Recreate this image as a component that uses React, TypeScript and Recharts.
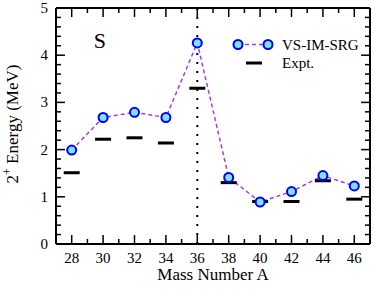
import {
  ComposedChart,
  Line,
  Scatter,
  XAxis,
  YAxis,
  ReferenceLine,
  ReferenceDot,
  Legend,
} from "recharts"

const massNumbers = [28, 30, 32, 34, 36, 38, 40, 42, 44, 46]
const vsImSrg = [1.99, 2.68, 2.79, 2.68, 4.26, 1.41, 0.89, 1.11, 1.45, 1.23]
const expt = [1.51, 2.22, 2.25, 2.14, 3.3, 1.3, 0.9, 0.9, 1.34, 0.95]

const xTicks = [28, 29, 30, 31, 32, 33, 34, 35, 36, 37, 38, 39, 40, 41, 42, 43, 44, 45, 46]
const yTicks = [
  0, 0.2, 0.4, 0.6, 0.8, 1, 1.2, 1.4, 1.6, 1.8, 2, 2.2, 2.4, 2.6, 2.8, 3, 3.2, 3.4,
  3.6, 3.8, 4, 4.2, 4.4, 4.6, 4.8, 5,
]

const X_MIN = 27
const X_MAX = 47
const Y_MIN = 0
const Y_MAX = 5

const data = massNumbers.map((m, i) => ({ mass: m, th: vsImSrg[i], ex: expt[i] }))

const FONT = "'Liberation Serif', 'Times New Roman', serif"
const PURPLE = "#a33cf0"
const BLUE = "#0000ff"
const CYAN = "#7fe3ff"

const isMajorX = (v: number) => v % 2 === 0
const isMajorY = (v: number) => Math.abs(v - Math.round(v)) < 1e-6

// inward tick lengths, in data units (~9px major / ~5px minor)
const xTickLen = (v: number) => (isMajorX(v) ? 0.19 : 0.106)
const yTickLen = (v: number) => (isMajorY(v) ? 0.57 : 0.32)

const BottomTick = (p: any) => {
  const v = p.payload.value
  if (!isMajorX(v)) return <g />
  return (
    <text x={p.x} y={p.y + 19} textAnchor="middle" fontSize={15} fontFamily={FONT} fill="#000">
      {v}
    </text>
  )
}

const LeftTick = (p: any) => {
  const v = p.payload.value
  if (!isMajorY(v)) return <g />
  return (
    <text x={p.x - 8} y={p.y + 5} textAnchor="end" fontSize={15} fontFamily={FONT} fill="#000">
      {Math.round(v)}
    </text>
  )
}

const TheoryDot = (p: any) => (
  <circle key={p.index} cx={p.cx} cy={p.cy} r={4.5} fill={CYAN} stroke={BLUE} strokeWidth={2} />
)

const ExptBar = (p: any) => <rect x={p.cx - 8} y={p.cy - 1.5} width={16} height={3} fill="#000" />

const LegendBox = () => (
  <svg width={140} height={40} style={{ display: "block" }}>
    <line x1={10} x2={40} y1={9.5} y2={9.5} stroke={PURPLE} strokeWidth={1.5} strokeDasharray="4 3" />
    <circle cx={10} cy={9.5} r={4.5} fill={CYAN} stroke={BLUE} strokeWidth={2} />
    <circle cx={40} cy={9.5} r={4.5} fill={CYAN} stroke={BLUE} strokeWidth={2} />
    <text x={54} y={14.5} fontSize={15} fontFamily={FONT} fill="#000">
      VS-IM-SRG
    </text>
    <rect x={18} y={26.5} width={16} height={3} fill="#000" />
    <text x={54} y={33} fontSize={15} fontFamily={FONT} fill="#000">
      Expt.
    </text>
  </svg>
)

const XLabel = (p: any) => {
  const vb = p.viewBox
  return (
    <text x={vb.x + vb.width / 2} y={280} textAnchor="middle" fontSize={17} fontFamily={FONT} fill="#000">
      Mass Number A
    </text>
  )
}

const YLabel = () => (
  <text
    x={0}
    y={0}
    transform="translate(18,124) rotate(-90)"
    textAnchor="middle"
    fontSize={17}
    fontFamily={FONT}
    fill="#000"
  >
    <tspan>2</tspan>
    <tspan dy={-7} fontSize={12}>+</tspan>
    <tspan dy={7}> Energy (MeV)</tspan>
  </text>
)

const frame = { stroke: "#000", strokeWidth: 2 }
const TICK = "#000"

export default function App() {
  return (
    <div style={{ position: "absolute", left: 0, top: 0, width: 374, height: 292, background: "#fff" }}>
      <ComposedChart width={374} height={292} data={data} margin={{ top: 8, right: 4, bottom: 0, left: 0 }}>
        <XAxis
          dataKey="mass"
          type="number"
          domain={[X_MIN, X_MAX]}
          allowDataOverflow
          ticks={xTicks}
          interval={0}
          tickSize={0}
          tickMargin={0}
          tickLine={false}
          tick={BottomTick}
          height={48}
          axisLine={frame}
          label={XLabel}
        />
        <XAxis
          xAxisId="top"
          orientation="top"
          mirror
          dataKey="mass"
          type="number"
          domain={[X_MIN, X_MAX]}
          allowDataOverflow
          tick={false}
          tickLine={false}
          height={20}
          axisLine={frame}
        />
        <YAxis
          type="number"
          domain={[Y_MIN, Y_MAX]}
          allowDataOverflow
          ticks={yTicks}
          interval={0}
          tickSize={0}
          tickMargin={0}
          tickLine={false}
          tick={LeftTick}
          width={56}
          axisLine={frame}
          label={YLabel}
        />
        <YAxis
          yAxisId="right"
          orientation="right"
          mirror
          type="number"
          domain={[Y_MIN, Y_MAX]}
          allowDataOverflow
          tick={false}
          tickLine={false}
          width={20}
          axisLine={frame}
        />

        {/* inward tick marks on all four sides */}
        {xTicks.map((v) => (
          <ReferenceLine
            key={`b${v}`}
            segment={[{ x: v, y: Y_MIN }, { x: v, y: Y_MIN + xTickLen(v) }]}
            stroke={TICK}
            strokeWidth={1.5}
            ifOverflow="visible"
          />
        ))}
        {xTicks.map((v) => (
          <ReferenceLine
            key={`t${v}`}
            segment={[{ x: v, y: Y_MAX }, { x: v, y: Y_MAX - xTickLen(v) }]}
            stroke={TICK}
            strokeWidth={1.5}
            ifOverflow="visible"
          />
        ))}
        {yTicks.map((v) => (
          <ReferenceLine
            key={`l${v}`}
            segment={[{ x: X_MIN, y: v }, { x: X_MIN + yTickLen(v), y: v }]}
            stroke={TICK}
            strokeWidth={1.5}
            ifOverflow="visible"
          />
        ))}
        {yTicks.map((v) => (
          <ReferenceLine
            key={`r${v}`}
            segment={[{ x: X_MAX, y: v }, { x: X_MAX - yTickLen(v), y: v }]}
            stroke={TICK}
            strokeWidth={1.5}
            ifOverflow="visible"
          />
        ))}

        <ReferenceLine x={36} stroke="#000" strokeWidth={2} strokeDasharray="2 7" />
        <ReferenceDot
          x={29.8}
          y={4.31}
          r={0}
          shape={(p: any) => (
            <text x={p.cx} y={p.cy + 7.5} textAnchor="middle" fontSize={22} fontFamily={FONT} fill="#000">
              S
            </text>
          )}
        />
        {/* invisible series so the top/right frame axes get a scale */}
        <Line
          xAxisId="top"
          yAxisId="right"
          dataKey="th"
          stroke="none"
          dot={false}
          activeDot={false}
          legendType="none"
          isAnimationActive={false}
        />
        <Scatter dataKey="ex" shape={ExptBar} isAnimationActive={false} legendType="none" />
        <Line
          dataKey="th"
          stroke={PURPLE}
          strokeWidth={1.5}
          strokeDasharray="4 3"
          dot={TheoryDot}
          activeDot={false}
          isAnimationActive={false}
        />
        <Legend
          layout="vertical"
          align="center"
          verticalAlign="middle"
          wrapperStyle={{ left: 228, top: 35, width: 140 }}
          content={LegendBox}
        />
      </ComposedChart>
    </div>
  )
}
